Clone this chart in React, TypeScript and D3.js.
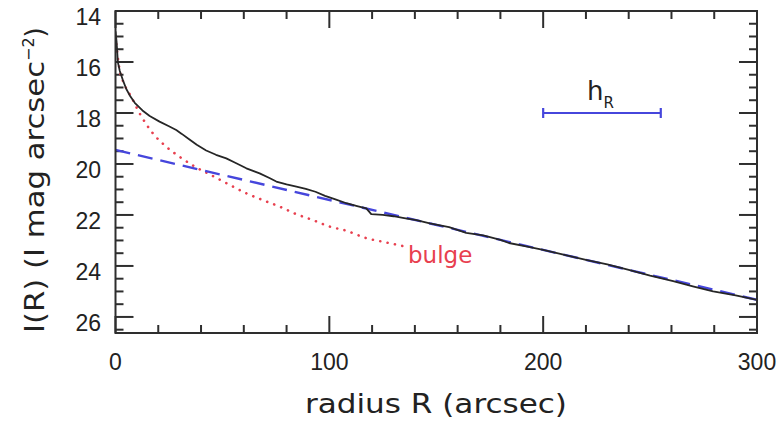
import React from "react";
import * as d3 from "d3";

const observedR = [0, 0.5, 1.1, 2, 3.4, 5, 6.6, 9, 12.6, 16, 20.6, 25, 28.4, 31, 34.6, 38, 42.4, 47, 51.8, 56, 61.2, 67.4, 72, 75.2, 80, 84.6, 89, 93.5, 98, 102.5, 108, 113, 117.3, 119.6, 125, 130, 135, 140.7, 147, 156, 164, 172, 180, 184, 192, 200, 210, 220, 230, 240.5, 250, 260.8, 270, 279.5, 290, 300];
const observedMag = [14.8, 15.2, 16.0, 16.35, 16.7, 17.05, 17.3, 17.6, 17.9, 18.12, 18.34, 18.52, 18.67, 18.82, 19.04, 19.25, 19.47, 19.64, 19.78, 19.95, 20.17, 20.37, 20.55, 20.69, 20.8, 20.89, 20.98, 21.09, 21.25, 21.38, 21.54, 21.65, 21.74, 21.97, 22.0, 22.05, 22.12, 22.2, 22.33, 22.48, 22.7, 22.8, 22.98, 23.1, 23.23, 23.37, 23.57, 23.76, 23.94, 24.16, 24.38, 24.6, 24.8, 25.0, 25.15, 25.33];

const diskR = [0, 300];
const diskMag = [19.45, 25.33];

const bulgeR = [0, 1.9, 4, 7.3, 11.2, 17.5, 23.7, 30, 37, 45, 53, 61.2, 69, 76.7, 84, 92.3, 100, 108, 117.3, 125, 134.5];
const bulgeMag = [15.0, 16.3, 16.85, 17.36, 18.0, 18.8, 19.32, 19.72, 20.1, 20.45, 20.8, 21.15, 21.42, 21.67, 21.95, 22.2, 22.45, 22.62, 22.91, 23.05, 23.22];

const scaleLengthR = [200, 255];
const scaleLengthMag = 18;

const xTickLabels = [0, 100, 200, 300];
const yTickLabels = [14, 16, 18, 20, 22, 24, 26];

const W = 780;
const H = 421;
const X0 = 115.5, X1 = 757;
const Y0 = 11, Y1 = 333;

export default function App() {
  const x = d3.scaleLinear().domain([0, 300]).range([X0, X1]);
  const y = d3.scaleLinear().domain([14, 26.63]).range([Y0, Y1]);

  const lineLinear = d3.line<[number, number]>().x((d) => x(d[0])).y((d) => y(d[1]));
  const lineSmooth = d3
    .line<[number, number]>()
    .x((d) => x(d[0]))
    .y((d) => y(d[1]))
    .curve(d3.curveMonotoneX);

  const obs = observedR.map((r, i) => [r, observedMag[i]] as [number, number]);
  const disk = diskR.map((r, i) => [r, diskMag[i]] as [number, number]);
  const bulge = bulgeR.map((r, i) => [r, bulgeMag[i]] as [number, number]);

  const xMinor = d3.range(0, 301, 20);
  const yMinor = d3.range(14, 26.6, 0.5);

  const frame = "#2e2e2e";
  const blue = "#4646dc";
  const red = "#e8404f";

  return (
    <svg width={W} height={H} style={{ position: "absolute", left: 0, top: 0, background: "#fff" }}>
      <defs>
        <clipPath id="plot">
          <rect x={X0} y={Y0} width={X1 - X0} height={Y1 - Y0} />
        </clipPath>
      </defs>
      {/* ticks */}
      <g stroke={frame} strokeWidth={2}>
        {xMinor.map((v) => {
          const major = v % 100 === 0;
          const len = major ? 17 : 8;
          return (
            <g key={"xt" + v}>
              <line x1={x(v)} x2={x(v)} y1={Y1} y2={Y1 - len} />
              <line x1={x(v)} x2={x(v)} y1={Y0} y2={Y0 + len} />
            </g>
          );
        })}
        {yMinor.map((v) => {
          const major = Math.abs(v % 2) < 1e-9;
          const len = major ? 18 : 8;
          return (
            <g key={"yt" + v}>
              <line x1={X0} x2={X0 + len} y1={y(v)} y2={y(v)} />
              <line x1={X1} x2={X1 - len} y1={y(v)} y2={y(v)} />
            </g>
          );
        })}
      </g>
      {/* curves */}
      <g clipPath="url(#plot)" fill="none">
        <path d={lineSmooth(bulge) || ""} stroke={red} strokeWidth={2.6} strokeDasharray="0.1,7.4" strokeLinecap="round" />
        <path d={lineLinear(disk) || ""} stroke={blue} strokeWidth={2.4} strokeDasharray="15,8" />
        <path d={lineLinear(obs) || ""} stroke="#262626" strokeWidth={1.8} strokeLinejoin="round" />
      </g>
      {/* frame */}
      <rect x={X0} y={Y0} width={X1 - X0} height={Y1 - Y0} fill="none" stroke={frame} strokeWidth={2} />
      {/* tick labels */}
      <g fontFamily="Liberation Sans, Arial, sans-serif" fontSize={23} fill="#222">
        {xTickLabels.map((v) => (
          <text key={"xl" + v} x={x(v)} y={370} textAnchor="middle">
            {v}
          </text>
        ))}
        {yTickLabels.map((v) => (
          <text key={"yl" + v} x={101} y={y(v) + 14} textAnchor="end">
            {v}
          </text>
        ))}
      </g>
      {/* scale length bar */}
      <g stroke={blue} strokeWidth={2.2}>
        <line x1={x(scaleLengthR[0])} x2={x(scaleLengthR[1])} y1={y(scaleLengthMag)} y2={y(scaleLengthMag)} />
        <line x1={x(scaleLengthR[0])} x2={x(scaleLengthR[0])} y1={y(scaleLengthMag) - 5} y2={y(scaleLengthMag) + 5} />
        <line x1={x(scaleLengthR[1])} x2={x(scaleLengthR[1])} y1={y(scaleLengthMag) - 5} y2={y(scaleLengthMag) + 5} />
      </g>
      <text x={587} y={100} fontFamily="DejaVu Sans, sans-serif" fontSize={26} fill="#222">
        h
        <tspan fontSize={15} dy={8}>R</tspan>
      </text>
      <text x={408} y={263} fontFamily="DejaVu Sans, sans-serif" fontSize={23} fill={red}>
        bulge
      </text>
      {/* axis titles */}
      <text
        x={305}
        y={413}
        textLength={262}
        lengthAdjust="spacingAndGlyphs"
        fontFamily="DejaVu Sans, sans-serif"
        fontSize={26}
        fill="#222"
      >
        radius R (arcsec)
      </text>
      <text
        transform={`translate(44,333) rotate(-90)`}
        fontFamily="DejaVu Sans, sans-serif"
        fontSize={26}
        fill="#222"
      >
        <tspan textLength={272} lengthAdjust="spacingAndGlyphs">I(R) (I mag arcsec</tspan>
        <tspan fontSize={16} dy={-10}>−2</tspan>
        <tspan dy={10}>)</tspan>
      </text>
    </svg>
  );
}
